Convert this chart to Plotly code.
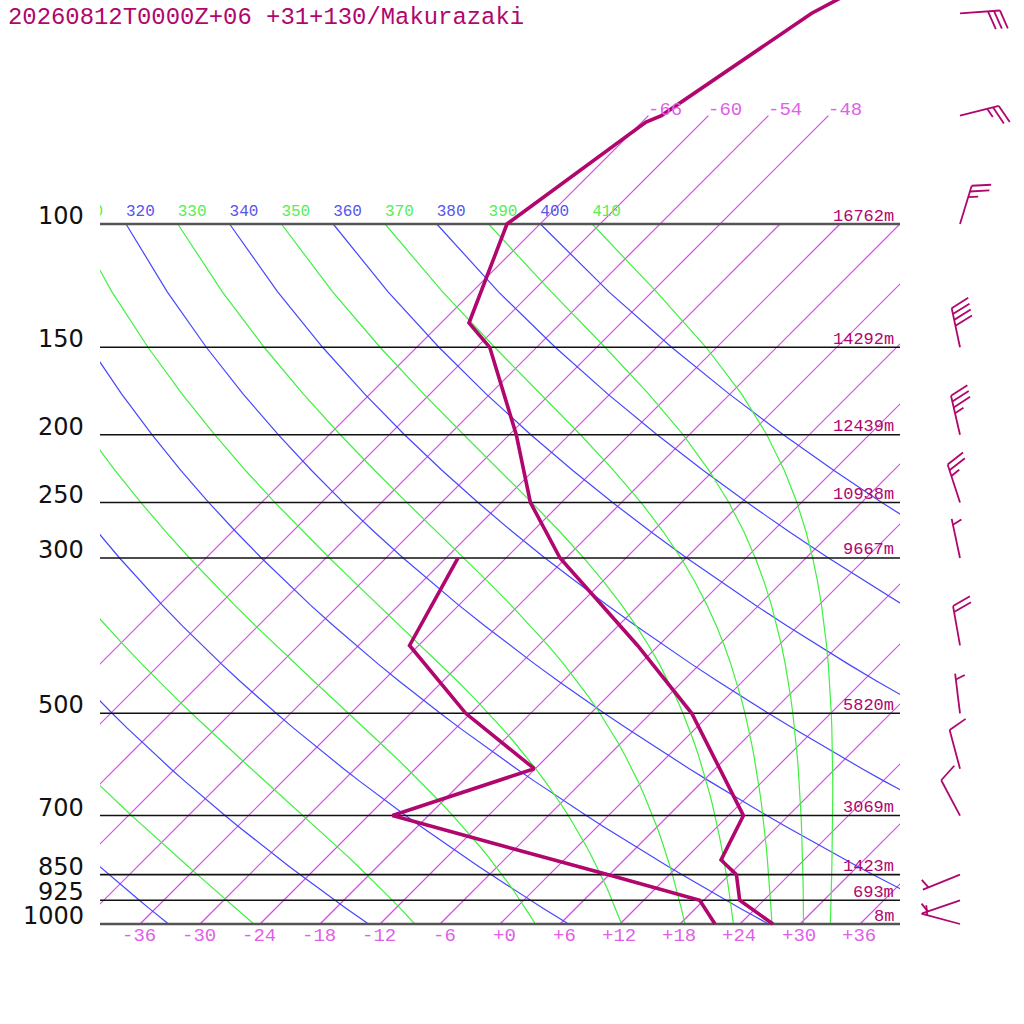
import numpy as np
import plotly.graph_objects as go

TITLE = "20260812T0000Z+06 +31+130/Makurazaki"

# pressure levels drawn as isobars, with geopotential heights
LEVELS = [1000, 925, 850, 700, 500, 300, 250, 200, 150, 100]
HEIGHTS = [8, 693, 1423, 3069, 5820, 9667, 10938, 12439, 14292, 16762]

# temperature profile (hPa, degC)
TEMP_P = [1000, 925, 850, 810, 700, 500, 400, 300, 250, 200, 150, 138.5, 100, 71.5, 70, 50, 30]
TEMP_C = [27.3, 21.6, 18.7, 15.7, 13.5, -1.9, -14.1, -30.6, -39.1, -47.3, -58.7, -63.2, -69.3, -65.6, -64.7, -59.9, -46.2]

# dewpoint profile
DEW_P = [1000, 925, 850, 700, 600, 500, 400, 300]
DEW_C = [21.5, 17.6, 5.8, -21.6, -12.1, -24.5, -36.9, -40.8]

# winds (hPa, direction deg, speed kt)
WIND_P = [50, 70, 100, 150, 200, 250, 300, 400, 500, 600, 700, 850, 925, 1000]
WIND_DIR = [86, 76, 17, 348, 347, 342, 348, 350, 353, 345, 332, 248, 251, 285]
WIND_SPD = [30, 25, 25, 40, 35, 25, 5, 20, 5, 10, 10, 5, 5, 5]

# background lines
ISOTHERMS = list(range(-66, 37, 6))
ISOTHERMS_HIGH = [-66, -60, -54, -48]   # these run up to 70 hPa and get a label
TEMP_TICKS = list(range(-36, 37, 6))
DRY_THETA = list(range(240, 401, 20))
MOIST_THETA = list(range(250, 411, 20))

PURPLE = "#b0066e"
ISO_COL = "#d848ea"
ISO_TXT = "#e060e8"
DRY_COL = "#4646ff"
MOIST_COL = "#40f040"

KAPPA = 0.2857
RD, CPD, LV, EPS = 287.04, 1005.7, 2.501e6, 0.622

# geometry: 10 px per degC, 700 px per decade of pressure, 1000 hPa at y=924, 0C at x=500
PX_DEG = 10.0
PX_LN = 700 / np.log(10)
K = PX_LN / PX_DEG


def skew(t, p):
    return np.asarray(t, float) + K * np.log(1000.0 / np.asarray(p, float))


def y_px(p):
    return 924 - PX_LN * np.log(1000.0 / p)


def p_at(y):
    return 1000.0 * np.exp(-(924 - y) / PX_LN)


def x_at(px):
    return (px - 500) / PX_DEG


def rs(tk, p):
    tc = tk - 273.15
    es = 6.112 * np.exp(17.67 * tc / (tc + 243.5))
    return EPS * es / (p - es)


def dT_dlnp(tk, p):
    r = rs(tk, p)
    return (RD * tk + LV * r) / (CPD + LV * LV * r * EPS / (RD * tk * tk))


def moist_curve(theta, ps):
    tk = theta * (ps[0] / 1000.0) ** KAPPA
    out = [tk]
    for p0, p1 in zip(ps[:-1], ps[1:]):
        n = 20
        h = (np.log(p1) - np.log(p0)) / n
        lp = np.log(p0)
        for _ in range(n):
            k1 = dT_dlnp(tk, np.exp(lp))
            k2 = dT_dlnp(tk + h * k1 / 2, np.exp(lp + h / 2))
            k3 = dT_dlnp(tk + h * k2 / 2, np.exp(lp + h / 2))
            k4 = dT_dlnp(tk + h * k3, np.exp(lp + h))
            tk += h * (k1 + 2 * k2 + 2 * k3 + k4) / 6
            lp += h
        out.append(tk)
    return np.array(out) - 273.15


fig = go.Figure()
line_p = np.arange(100, 1001, 25.0)

# isotherms, one trace, sampled along pressure
ix, iy = [], []
for t in ISOTHERMS:
    ptop = 70 if t in ISOTHERMS_HIGH else 100
    ps = np.geomspace(1000, ptop, 12)
    xs = skew(np.full(ps.shape, float(t)), ps)
    ix += xs.tolist() + [None]
    iy += ps.tolist() + [None]
fig.add_trace(go.Scatter(x=ix, y=iy, mode="lines", line=dict(color=ISO_COL, width=1.2),
                         xaxis="x", yaxis="y", hoverinfo="skip", connectgaps=False))

# dry adiabats
dry_top = []
for th in DRY_THETA:
    tc = th * (line_p / 1000.0) ** KAPPA - 273.15
    xs = skew(tc, line_p)
    dry_top.append(float(xs[0]))
    fig.add_trace(go.Scatter(x=xs.tolist(), y=line_p.tolist(), mode="lines", line=dict(color=DRY_COL, width=1.2),
                             xaxis="x", yaxis="y", hoverinfo="skip"))

# moist adiabats
moist_top = []
for th in MOIST_THETA:
    tc = moist_curve(th, line_p)
    xs = skew(tc, line_p)
    moist_top.append(float(xs[0]))
    fig.add_trace(go.Scatter(x=xs.tolist(), y=line_p.tolist(), mode="lines", line=dict(color=MOIST_COL, width=1.2),
                             xaxis="x", yaxis="y", hoverinfo="skip"))

# isobars
for lev in LEVELS:
    edge = lev in (100, 1000)
    fig.add_trace(go.Scatter(x=[-40, 40], y=[lev, lev], mode="lines",
                             line=dict(color="#555555" if edge else "#111111", width=2.4 if edge else 1.6),
                             xaxis="x", yaxis="y", hoverinfo="skip"))

# theta labels along the top, clipped to the frame (only those that reach into it)
lab_p = float(p_at(y_px(100) - 12))
x_min = x_at(100) - 3.5
for tops, vals, col in ((dry_top, DRY_THETA, "#5555ee"), (moist_top, MOIST_THETA, "#55ee55")):
    sel = [i for i, v in enumerate(tops) if v > x_min]
    fig.add_trace(go.Scatter(x=[tops[i] for i in sel], y=[lab_p] * len(sel), mode="text",
                             text=[str(vals[i]) for i in sel], textposition="middle right",
                             textfont=dict(family="Liberation Mono", size=16, color=col),
                             cliponaxis=True, xaxis="x", yaxis="y", hoverinfo="skip"))

# profiles
fig.add_trace(go.Scatter(x=skew(DEW_C, DEW_P).tolist(), y=DEW_P, mode="lines",
                         line=dict(color=PURPLE, width=3.6), xaxis="x2", yaxis="y", hoverinfo="skip"))
fig.add_trace(go.Scatter(x=skew(TEMP_C, TEMP_P).tolist(), y=TEMP_P, mode="lines",
                         line=dict(color=PURPLE, width=3.6), xaxis="x2", yaxis="y", hoverinfo="skip"))

# wind barbs
bx, by = [], []
c20, s20 = np.cos(np.radians(20)), np.sin(np.radians(20))
for p, d, spd in zip(WIND_P, WIND_DIR, WIND_SPD):
    x0, y0 = 960.0, y_px(p)
    a = np.radians(d)
    sx, sy = np.sin(a), -np.cos(a)
    tx, ty = x0 + 40 * sx, y0 + 40 * sy
    segs = [((x0, y0), (tx, ty))]
    fx, fy = c20 * (-sy) + s20 * sx, c20 * sx + s20 * sy
    nfull = spd // 10
    for i in range(nfull):
        px, py = tx - 6 * i * sx, ty - 6 * i * sy
        segs.append(((px, py), (px + 19.5 * fx, py + 19.5 * fy)))
    if spd % 10 >= 5:
        i = nfull if nfull > 0 else 1
        px, py = tx - 6 * i * sx, ty - 6 * i * sy
        segs.append(((px, py), (px + 10 * fx, py + 10 * fy)))
    for (xa, ya), (xb, yb) in segs:
        bx += [float(x_at(xa)), float(x_at(xb)), None]
        by += [float(p_at(ya)), float(p_at(yb)), None]
fig.add_trace(go.Scatter(x=bx, y=by, mode="lines", line=dict(color=PURPLE, width=1.8),
                         xaxis="x2", yaxis="y", hoverinfo="skip"))

# pressure labels, heights
for lev, h in zip(LEVELS, HEIGHTS):
    fig.add_annotation(x=x_at(86), y=np.log10(lev), xref="x2", yref="y", text=str(lev),
                       showarrow=False, xanchor="right", yanchor="middle", yshift=8,
                       font=dict(family="DejaVu Sans", size=24, color="#111111"))
    fig.add_annotation(x=x_at(896), y=np.log10(lev), xref="x2", yref="y", text=f"{h}m",
                       showarrow=False, xanchor="right", yanchor="middle", yshift=8,
                       font=dict(family="Liberation Mono", size=17, color=PURPLE))

# temperature labels along the bottom
for t in TEMP_TICKS:
    txt = f"{t:+d}" if t != 0 else "+0"
    fig.add_annotation(x=t, y=np.log10(1000), xref="x2", yref="y", text=txt,
                       showarrow=False, xanchor="right", yanchor="middle", xshift=18, yshift=-12,
                       font=dict(family="Liberation Mono", size=19, color=ISO_TXT))

# labels on the high isotherms
for t in ISOTHERMS_HIGH:
    fig.add_annotation(x=float(skew(t, 70)), y=np.log10(70), xref="x2", yref="y", text=f"{t:d}",
                       showarrow=False, xanchor="left", yanchor="middle", yshift=6, xshift=-2,
                       font=dict(family="Liberation Mono", size=19, color=ISO_TXT))

fig.add_annotation(x=6 / 1024, y=1 - 17 / 1024, xref="paper", yref="paper", text=TITLE,
                   showarrow=False, xanchor="left", yanchor="middle",
                   font=dict(family="Liberation Mono", size=23.9, color=PURPLE))

fig.update_layout(
    width=1024, height=1024, margin=dict(l=0, r=0, t=0, b=0),
    paper_bgcolor="white", plot_bgcolor="rgba(0,0,0,0)", showlegend=False,
    xaxis=dict(domain=[100 / 1024, 900 / 1024], range=[x_at(100), x_at(900)], visible=False, anchor="y"),
    xaxis2=dict(domain=[0, 1], range=[x_at(0), x_at(1024)], visible=False, anchor="y"),
    yaxis=dict(type="log", domain=[0, 1], range=[np.log10(p_at(1024)), np.log10(p_at(0))], visible=False),
)

fig.write_html("out.html", config={"displayModeBar": False},
               post_script="document.body.style.margin='0';")
